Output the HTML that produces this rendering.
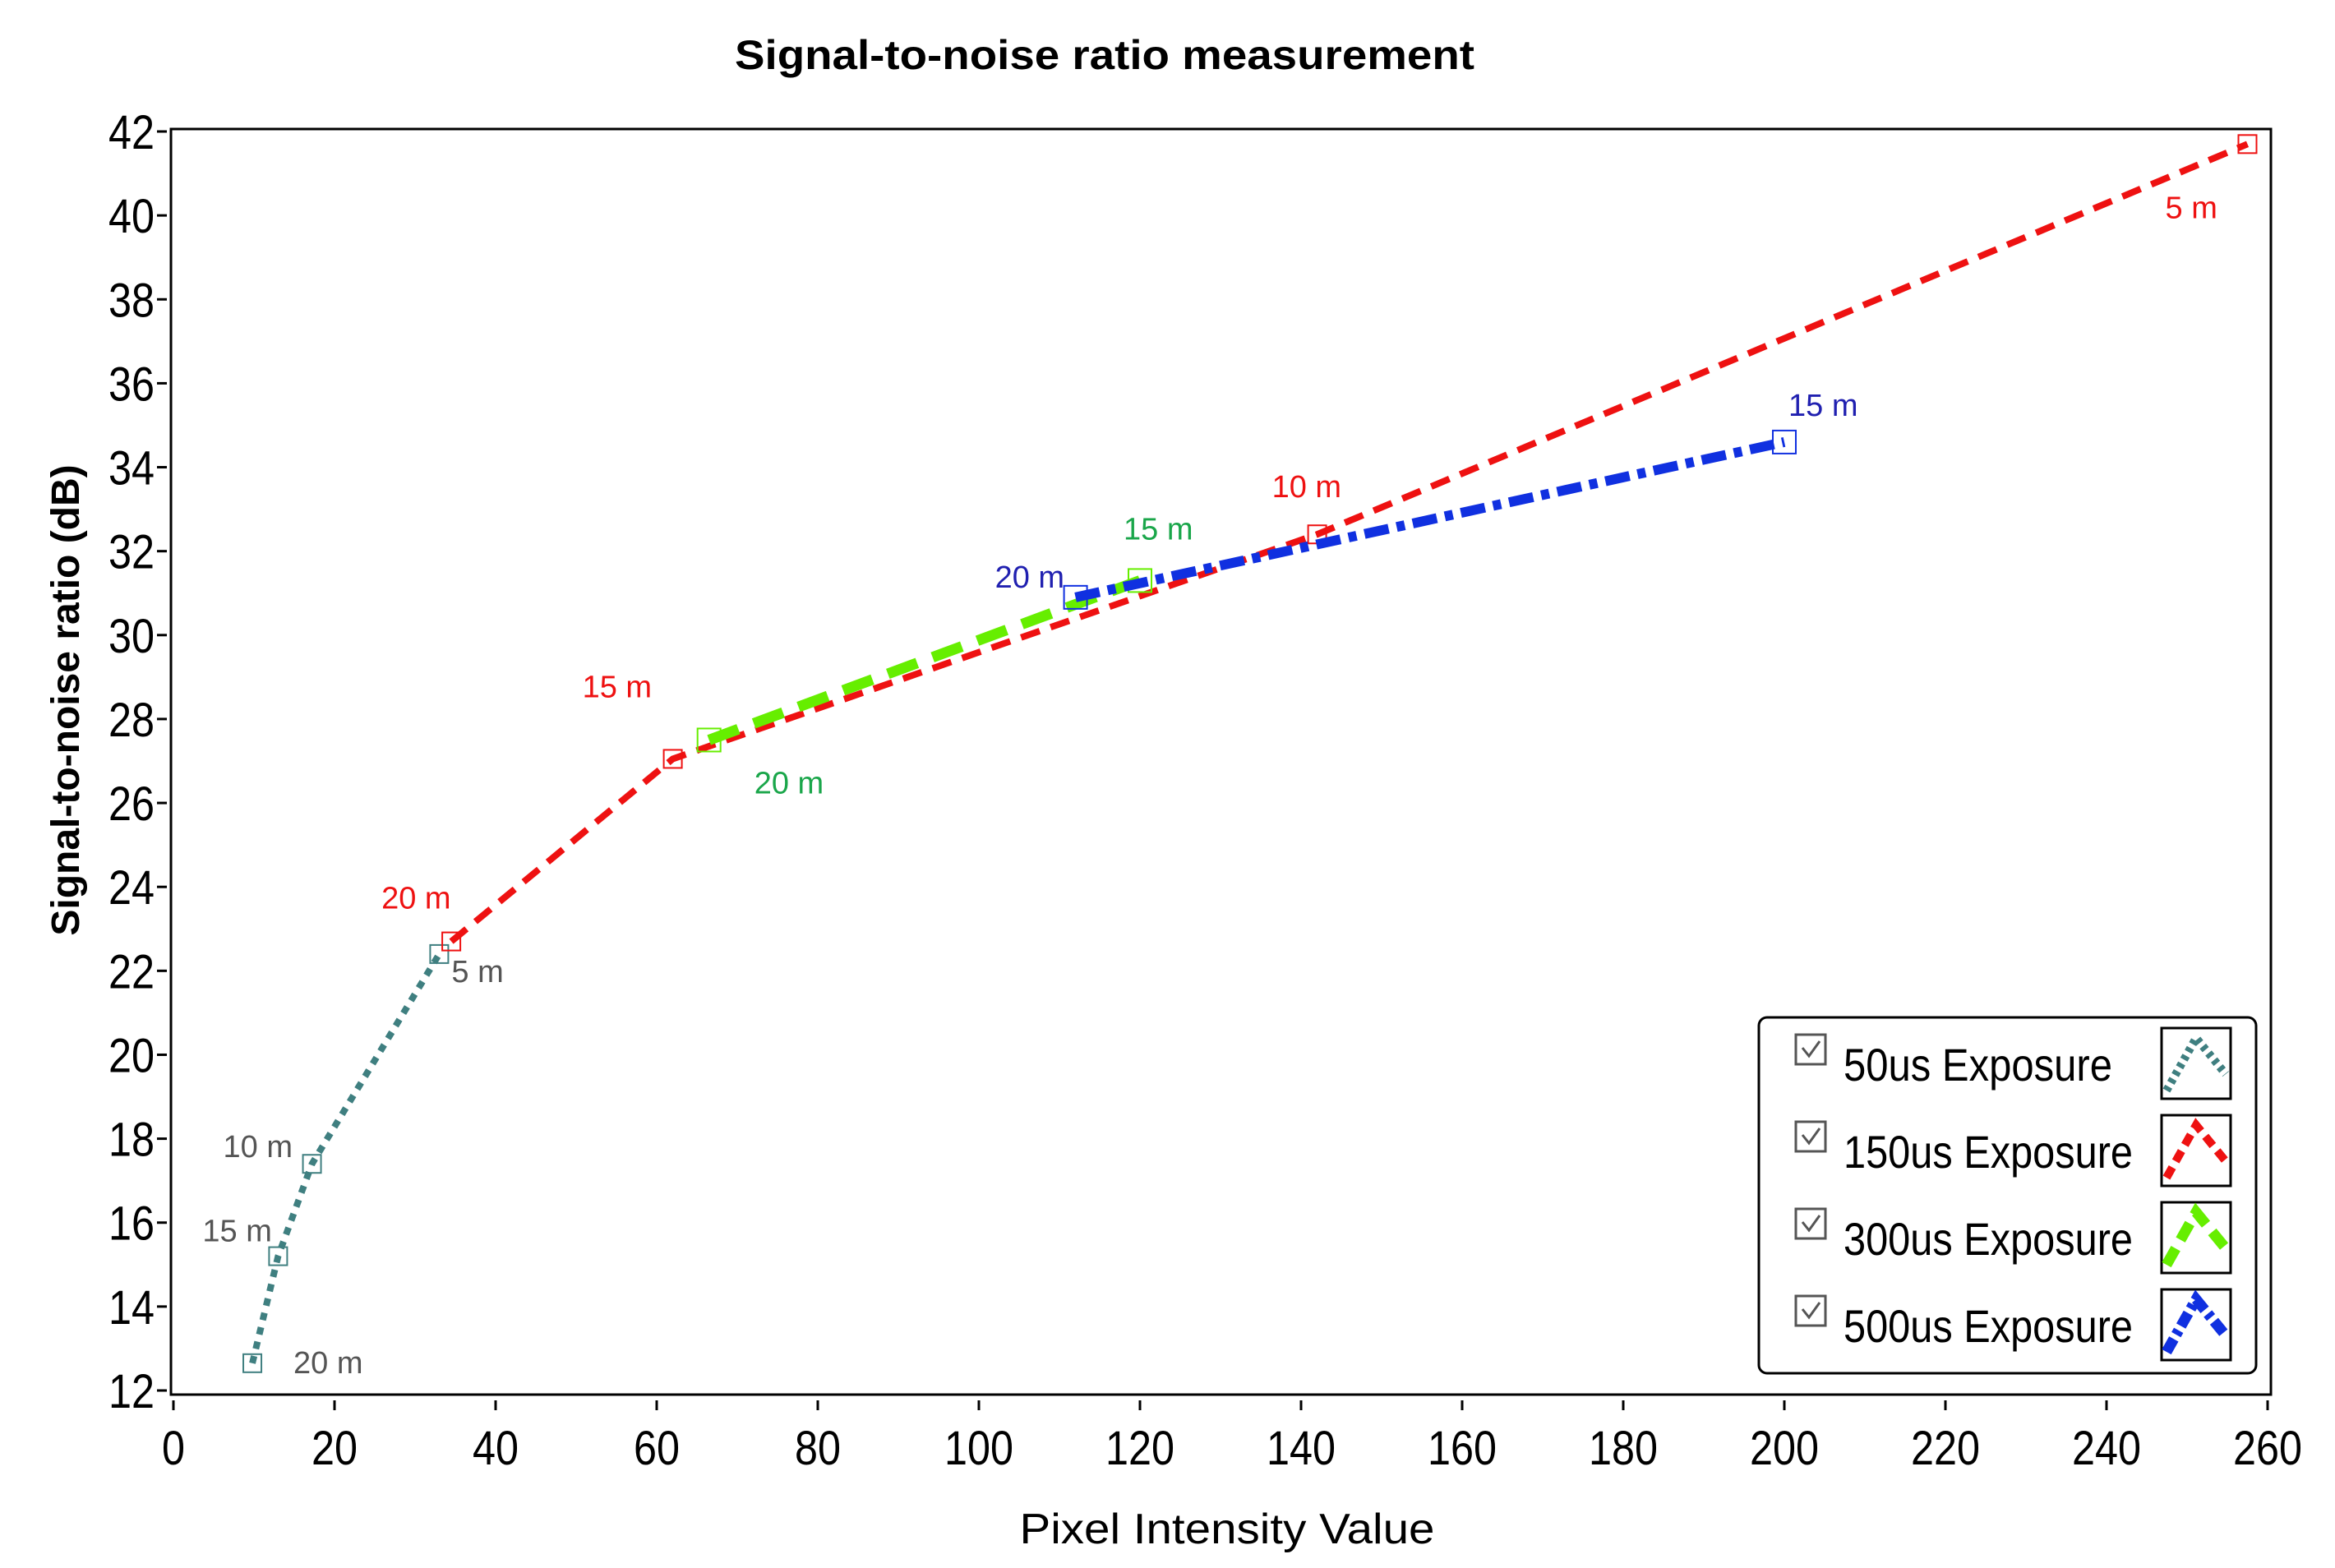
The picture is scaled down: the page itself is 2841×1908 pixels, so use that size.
<!DOCTYPE html>
<html><head><meta charset="utf-8"><style>
html,body{margin:0;padding:0;background:#fff;}
svg{display:block;}
text{font-family:"Liberation Sans",sans-serif;}
</style></head><body>
<svg id="chart" width="2841" height="1908" viewBox="0 0 2841 1908" xmlns="http://www.w3.org/2000/svg">
<text x="1344" y="84" text-anchor="middle" font-size="50" font-weight="bold" textLength="900" lengthAdjust="spacingAndGlyphs">Signal-to-noise ratio measurement</text>
<rect x="208" y="157" width="2555" height="1540" fill="none" stroke="#000" stroke-width="3"/>
<g id="axes"></g>
<g id="series"></g>
<text transform="translate(96,852) rotate(-90)" text-anchor="middle" font-size="48" font-weight="bold">Signal-to-noise ratio (dB)</text>
<text x="1493" y="1878" text-anchor="middle" font-size="52" textLength="505" lengthAdjust="spacingAndGlyphs">Pixel Intensity Value</text>
<g id="legend"></g>
</svg>
<script>
const xTicks = [0,20,40,60,80,100,120,140,160,180,200,220,240,260];
const yTicks = [12,14,16,18,20,22,24,26,28,30,32,34,36,38,40,42];
const seriesNames = ["50us Exposure","150us Exposure","300us Exposure","500us Exposure"];
const x50 = [9.8,13,17.2,33];
const y50 = [12.65,15.2,17.4,22.4];
const lbl50 = ["20 m","15 m","10 m","5 m"];
const x150 = [34.5,62,142,257.5];
const y150 = [22.7,27.05,32.4,41.7];
const lbl150 = ["20 m","15 m","10 m","5 m"];
const x300 = [66.5,120];
const y300 = [27.5,31.3];
const lbl300 = ["20 m","15 m"];
const x500 = [112,200];
const y500 = [30.9,34.6];
const lbl500 = ["20 m","15 m"];

const NS="http://www.w3.org/2000/svg";
function X(v){return 211+(v-0)*(2759-211)/260;}
function Y(v){return 1692-(v-12)*(1692-160)/30;}
function mk(tag,attrs,parent){const e=document.createElementNS(NS,tag);for(const k in attrs)e.setAttribute(k,attrs[k]);parent.appendChild(e);return e;}

const axes=document.getElementById('axes');
xTicks.forEach(t=>{
  const l=mk('line',{x1:X(t),x2:X(t),y1:1704,y2:1716,stroke:'#000','stroke-width':3},axes);
  
  
  const s=String(t);
  const tx=mk('text',{x:X(t),y:1782,'text-anchor':'middle','font-size':58,textLength:s.length*28,lengthAdjust:'spacingAndGlyphs'},axes);
  tx.textContent=s;
  
  
});
yTicks.forEach(t=>{
  const l=mk('line',{x1:191,x2:203,y1:Y(t),y2:Y(t),stroke:'#000','stroke-width':3},axes);
  
  
  const s=String(t);
  const tx=mk('text',{x:188,y:Y(t)+21,'text-anchor':'end','font-size':58,textLength:s.length*28,lengthAdjust:'spacingAndGlyphs'},axes);
  tx.textContent=s;
  
  
});

const styles=[
 {xs:x50,ys:y50,lb:lbl50,c:'#3f7f80',w:8,d:'9 9',m:22,tc:'#555',off:[[50,12],[-92,-18],[-108,-8],[15,34]],name:'series-50us'},
 {xs:x150,ys:y150,lb:lbl150,c:'#ee1111',w:8,d:'24 14',m:22,tc:'#ee1111',off:[[-85,-40],[-110,-75],[-55,-45],[-100,90]],name:'series-150us'},
 {xs:x300,ys:y300,lb:lbl300,c:'#66ee00',w:13,d:'38 20',m:28,tc:'#1aa64a',off:[[55,65],[-20,-50]],name:'series-300us'},
 {xs:x500,ys:y500,lb:lbl500,c:'#1030e0',w:12,d:'30 10 10 10',m:28,tc:'#2020b0',off:[[-98,-12],[5,-32]],name:'series-500us'}
];
const sg=document.getElementById('series');
styles.forEach(s=>{
  const g=mk('g',{},sg);
  
  
  const pts=s.xs.map((x,i)=>X(x)+','+Y(s.ys[i])).join(' ');
  const pl=mk('polyline',{points:pts,fill:'none',stroke:s.c,'stroke-width':s.w,'stroke-dasharray':s.d},g);
  
  
  s.xs.forEach((x,i)=>{
    const r=mk('rect',{x:X(x)-s.m/2,y:Y(s.ys[i])-s.m/2,width:s.m,height:s.m,fill:'none',stroke:s.c,'stroke-width':2},g);
    
    
    const t=mk('text',{x:X(x)+s.off[i][0],y:Y(s.ys[i])+s.off[i][1],'font-size':38,fill:s.tc},g);
    t.textContent=s.lb[i];
    
    
  });
});

const lg=document.getElementById('legend');
const box=mk('rect',{x:2140,y:1238,width:605,height:433,rx:10,fill:'#fff',stroke:'#000','stroke-width':3},lg);


const legendTextWidths=[327,352,352,352];
seriesNames.forEach((n,i)=>{
  const cy=1297+i*106;
  const cb=mk('rect',{x:2185,y:cy-38,width:36,height:36,fill:'#fff',stroke:'#555','stroke-width':3},lg);
  
  
  const ck=mk('polyline',{points:(2193)+','+(cy-22)+' '+(2201)+','+(cy-12)+' '+(2214)+','+(cy-30),fill:'none',stroke:'#555','stroke-width':3},lg);
  
  
  const t=mk('text',{x:2243,y:cy+18,'font-size':56,textLength:legendTextWidths[i],lengthAdjust:'spacingAndGlyphs'},lg);
  t.textContent=n;
  
  
  const sw=mk('rect',{x:2630,y:cy-46,width:84,height:86,fill:'#fff',stroke:'#000','stroke-width':3},lg);
  
  
  const s=styles[i];
  const p=mk('polyline',{points:(2636)+','+(cy+30)+' '+(2672)+','+(cy-34)+' '+(2708)+','+(cy+10),fill:'none',stroke:s.c,'stroke-width':Math.min(s.w+2,13),'stroke-dasharray':s.d.split(' ').map(v=>v*0.6).join(' ')},lg);
  
  
});
</script>
</body></html>
